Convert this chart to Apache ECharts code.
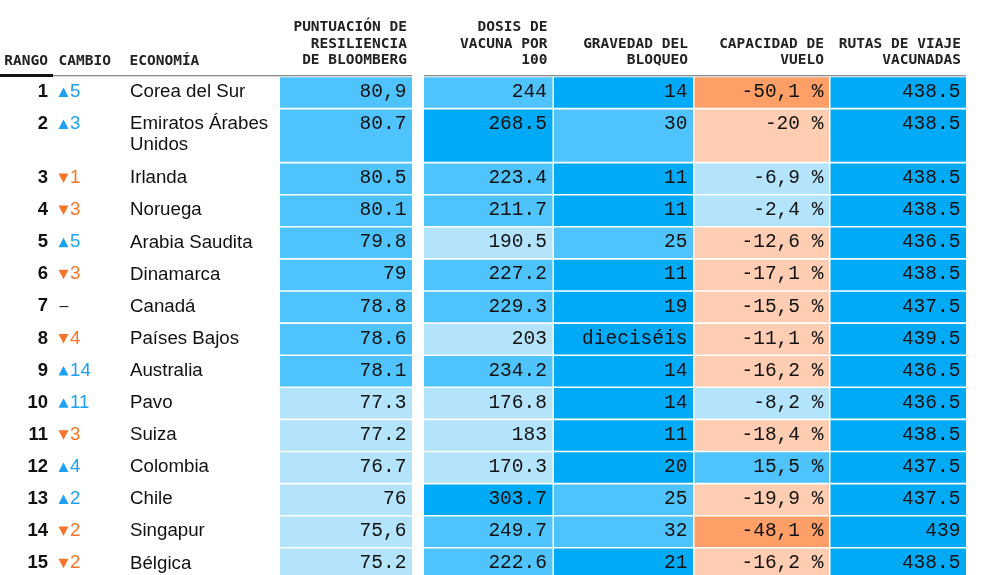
<!DOCTYPE html>
<html><head><meta charset="utf-8">
<script src="https://cdn.jsdelivr.net/npm/echarts@6/dist/echarts.min.js"></script>
<style>html,body{margin:0;padding:0;background:#fff}#c{width:1000px;height:575px}</style>
</head><body><div id="c"></div>
<script>
// ---------------- DATA ----------------
const ranks = [1,2,3,4,5,6,7,8,9,10,11,12,13,14,15];
const rankChanges = [5,3,-1,-3,5,-3,0,-4,14,11,-3,4,2,-2,-2];
const economies = ['Corea del Sur','Emiratos Árabes\nUnidos','Irlanda','Noruega','Arabia Saudita','Dinamarca','Canadá','Países Bajos','Australia','Pavo','Suiza','Colombia','Chile','Singapur','Bélgica'];
const resilienceScores = [80.9,80.7,80.5,80.1,79.8,79,78.8,78.6,78.1,77.3,77.2,76.7,76,75.6,75.2];
const resilienceLabels = ['80,9','80.7','80.5','80.1','79.8','79','78.8','78.6','78.1','77.3','77.2','76.7','76','75,6','75.2'];
const vaccineDoses = [244,268.5,223.4,211.7,190.5,227.2,229.3,203,234.2,176.8,183,170.3,303.7,249.7,222.6];
const lockdownSeverity = [14,30,11,11,25,11,19,16,14,14,11,20,25,32,21];
const lockdownLabels = ['14','30','11','11','25','11','19','dieciséis','14','14','11','20','25','32','21'];
const flightCapacity = [-50.1,-20,-6.9,-2.4,-12.6,-17.1,-15.5,-11.1,-16.2,-8.2,-18.4,15.5,-19.9,-48.1,-16.2];
const vaccinatedRoutes = [438.5,438.5,438.5,438.5,436.5,438.5,437.5,439.5,436.5,436.5,438.5,437.5,437.5,439,438.5];
const headerLeft = ['RANGO','CAMBIO','ECONOMÍA'];
const headerCols = ['PUNTUACIÓN DE\nRESILIENCIA\nDE BLOOMBERG','DOSIS DE\nVACUNA POR\n100','GRAVEDAD DEL\nBLOQUEO','CAPACIDAD DE\nVUELO','RUTAS DE VIAJE\nVACUNADAS'];

// ---------------- STYLE / LAYOUT ----------------
const C = {dark:'#00aaf6', mid:'#4fc3fb', light:'#b4e4fb', peach:'#fecdb2', orange:'#fe9f68'};
const upColor = '#1ea1f2', downColor = '#f7752a';
const monoFont = "'Liberation Mono', 'DejaVu Sans Mono', monospace";
const headMono = "'DejaVu Sans Mono', monospace";
const sansFont = "'Liberation Sans', Arial, Helvetica, sans-serif";
const rowPx = 32.1, extraLinePx = 21.9, cellGap = 1.6, textPad = 5.6, textOffset = 14.6;
const gridTop = 77.3;

const columns = [
  {x0:280, x1:412, values:resilienceScores, labels:resilienceLabels, color:v => v >= 78 ? C.mid : C.light},
  {x0:424, x1:552.5, values:vaccineDoses, labels:vaccineDoses.map(String), color:v => v > 260 ? C.dark : (v >= 210 ? C.mid : C.light)},
  {x0:554, x1:693, values:lockdownSeverity, labels:lockdownLabels, color:v => v >= 25 ? C.mid : C.dark},
  {x0:694.5, x1:829, values:flightCapacity, labels:flightCapacity.map(v => String(v).replace('.', ',') + ' %'),
    color:v => v <= -30 ? C.orange : (v <= -10 ? C.peach : (v < 0 ? C.light : C.mid))},
  {x0:830.5, x1:966, values:vaccinatedRoutes, labels:vaccinatedRoutes.map(String), color:v => C.dark}
];

const rowUnits = economies.map(e => 1 + (e.split('\n').length - 1) * extraLinePx / rowPx);
const rowStart = [];
let acc = 0;
rowUnits.forEach((u, i) => { rowStart.push(acc); acc += u; });
const totalUnits = acc;

const cellData = [];
columns.forEach((col, c) => col.values.forEach((v, r) => cellData.push([c, r, v])));
const rowData = ranks.map((rk, r) => [r, rk]);

function renderCell(params, api) {
  const c = api.value(0), r = api.value(1);
  const col = columns[c];
  const tl = api.coord([col.x0, rowStart[r]]);
  const br = api.coord([col.x1, rowStart[r] + rowUnits[r]]);
  return {
    type: 'group',
    children: [
      {type:'rect', shape:{x:tl[0], y:tl[1], width:br[0]-tl[0], height:br[1]-tl[1]-cellGap}, style:{fill:col.color(col.values[r])}},
      {type:'text', x:br[0]-textPad, y:tl[1]+textOffset,
        style:{text:col.labels[r], fill:'#111', font:'19.5px ' + monoFont, textAlign:'right', align:'right', textVerticalAlign:'middle', verticalAlign:'middle'}}
    ]
  };
}

function renderRow(params, api) {
  const r = api.value(0);
  const p = api.coord([0, rowStart[r]]);
  const y = p[1] + textOffset;
  const ch = rankChanges[r];
  const children = [
    {type:'text', x:api.coord([48,0])[0], y:y,
      style:{text:String(ranks[r]), fill:'#111', font:'bold 18.5px ' + sansFont, textAlign:'right', align:'right', textVerticalAlign:'middle', verticalAlign:'middle'}},
    {type:'text', x:api.coord([130,0])[0], y:y - 10.3,
      style:{text:economies[r], fill:'#111', font:'18.7px ' + sansFont, lineHeight:21, textAlign:'left', align:'left', textVerticalAlign:'top', verticalAlign:'top'}}
  ];
  const tx = api.coord([58.5,0])[0];
  if (ch === 0) {
    children.push({type:'text', x:tx + 1, y:y,
      style:{text:'–', fill:'#222', font:'16px ' + sansFont, textAlign:'left', align:'left', textVerticalAlign:'middle', verticalAlign:'middle'}});
  } else {
    const up = ch > 0;
    const color = up ? upColor : downColor;
    const pts = up ? [[tx, y+5],[tx+10, y+5],[tx+5, y-4.5]] : [[tx, y-4.5],[tx+10, y-4.5],[tx+5, y+5]];
    children.push({type:'polygon', shape:{points:pts}, style:{fill:color}});
    children.push({type:'text', x:api.coord([70,0])[0], y:y,
      style:{text:String(Math.abs(ch)), fill:color, font:'18.7px ' + sansFont, textAlign:'left', align:'left', textVerticalAlign:'middle', verticalAlign:'middle'}});
  }
  return {type:'group', children};
}

const headerFont = 'bold 14.5px ' + headMono;
const graphics = [
  {type:'rect', shape:{x:53, y:75.3, width:412 - 53, height:1}, style:{fill:'#666666'}},
  {type:'rect', shape:{x:424, y:75.3, width:966 - 424, height:1}, style:{fill:'#666666'}},
  {type:'rect', shape:{x:0, y:74, width:53, height:3}, style:{fill:'#111'}},
  {type:'text', x:48, y:68.5, style:{text:headerLeft[0], font:headerFont, fill:'#222', textAlign:'right', align:'right', textVerticalAlign:'bottom', verticalAlign:'bottom'}},
  {type:'text', x:58.5, y:68.5, style:{text:headerLeft[1], font:headerFont, fill:'#222', textAlign:'left', align:'left', textVerticalAlign:'bottom', verticalAlign:'bottom'}},
  {type:'text', x:129.5, y:68.5, style:{text:headerLeft[2], font:headerFont, fill:'#222', textAlign:'left', align:'left', textVerticalAlign:'bottom', verticalAlign:'bottom'}}
];
headerCols.forEach((h, i) => {
  graphics.push({type:'text', x:columns[i].x1 - textPad + 0.5, y:68.5,
    style:{text:h, font:headerFont, fill:'#222', lineHeight:16.5, textAlign:'right', align:'right', textVerticalAlign:'bottom', verticalAlign:'bottom'}});
});

const chart = echarts.init(document.getElementById('c'), null, {renderer:'canvas'});
chart.setOption({
  animation:false,
  backgroundColor:'#ffffff',
  grid:{left:0, right:0, top:gridTop, height:totalUnits*rowPx, containLabel:false, outerBoundsMode:'none'},
  xAxis:{type:'value', min:0, max:1000, show:false},
  yAxis:{type:'value', min:0, max:totalUnits, inverse:true, show:false},
  graphic:graphics,
  series:[
    {type:'custom', renderItem:renderCell, data:cellData, encode:{x:0, y:1}, silent:true, clip:false},
    {type:'custom', renderItem:renderRow, data:rowData, encode:{x:0, y:1}, silent:true, clip:false}
  ]
});
</script></body></html>
